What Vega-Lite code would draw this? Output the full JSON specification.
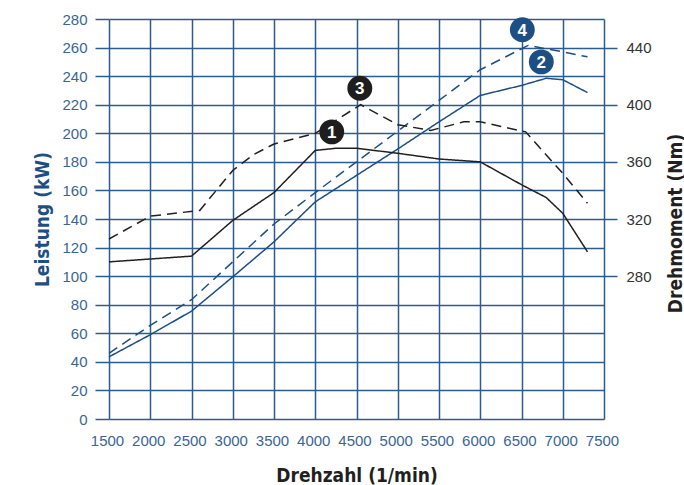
{
  "$schema": "https://vega.github.io/schema/vega-lite/v6.json",
  "width": 495,
  "height": 400,
  "autosize": "none",
  "padding": {"left": 109, "top": 19, "right": 80, "bottom": 66},
  "background": "white",
  "config": {
    "view": {"stroke": null},
    "axis": {
      "labelFont": "Liberation Sans",
      "labelFontSize": 15,
      "titleFont": "DejaVu Sans Condensed, Liberation Sans Narrow, sans-serif",
      "titleFontSize": 19,
      "titleFontWeight": "bold",
      "gridColor": "#2c5b8e",
      "gridWidth": 1.5,
      "gridOpacity": 1,
      "tickColor": "#2c5b8e",
      "tickWidth": 1.5,
      "domain": false,
      "labelOverlap": false,
      "labelFlush": false
    }
  },
  "datasets": {
    "power": [
      {"rpm": 1500, "kw": 43.5, "engine": "A"},
      {"rpm": 2000, "kw": 59, "engine": "A"},
      {"rpm": 2500, "kw": 75.5, "engine": "A"},
      {"rpm": 3000, "kw": 99.5, "engine": "A"},
      {"rpm": 3500, "kw": 124, "engine": "A"},
      {"rpm": 4000, "kw": 152, "engine": "A"},
      {"rpm": 4500, "kw": 170.5, "engine": "A"},
      {"rpm": 5000, "kw": 189, "engine": "A"},
      {"rpm": 5500, "kw": 208, "engine": "A"},
      {"rpm": 6000, "kw": 226.5, "engine": "A"},
      {"rpm": 6500, "kw": 233.5, "engine": "A"},
      {"rpm": 6800, "kw": 238.5, "engine": "A"},
      {"rpm": 7000, "kw": 237.5, "engine": "A"},
      {"rpm": 7300, "kw": 228.5, "engine": "A"},
      {"rpm": 1500, "kw": 46, "engine": "B"},
      {"rpm": 2000, "kw": 65.5, "engine": "B"},
      {"rpm": 2500, "kw": 83.5, "engine": "B"},
      {"rpm": 3000, "kw": 110, "engine": "B"},
      {"rpm": 3500, "kw": 136.5, "engine": "B"},
      {"rpm": 4000, "kw": 158.5, "engine": "B"},
      {"rpm": 4500, "kw": 180, "engine": "B"},
      {"rpm": 5000, "kw": 201.5, "engine": "B"},
      {"rpm": 5500, "kw": 223, "engine": "B"},
      {"rpm": 6000, "kw": 244.5, "engine": "B"},
      {"rpm": 6580, "kw": 261.5, "engine": "B"},
      {"rpm": 7000, "kw": 257, "engine": "B"},
      {"rpm": 7300, "kw": 253.5, "engine": "B"}
    ],
    "torque": [
      {"rpm": 1500, "nm": 290, "engine": "A"},
      {"rpm": 2500, "nm": 294, "engine": "A"},
      {"rpm": 3000, "nm": 319, "engine": "A"},
      {"rpm": 3500, "nm": 338.5, "engine": "A"},
      {"rpm": 4000, "nm": 368, "engine": "A"},
      {"rpm": 4250, "nm": 369.5, "engine": "A"},
      {"rpm": 4500, "nm": 369.5, "engine": "A"},
      {"rpm": 5000, "nm": 366, "engine": "A"},
      {"rpm": 5500, "nm": 362, "engine": "A"},
      {"rpm": 6000, "nm": 360, "engine": "A"},
      {"rpm": 6500, "nm": 344, "engine": "A"},
      {"rpm": 6800, "nm": 335, "engine": "A"},
      {"rpm": 7000, "nm": 324, "engine": "A"},
      {"rpm": 7300, "nm": 297, "engine": "A"},
      {"rpm": 1500, "nm": 306, "engine": "B"},
      {"rpm": 2000, "nm": 322, "engine": "B"},
      {"rpm": 2600, "nm": 326, "engine": "B"},
      {"rpm": 3000, "nm": 354, "engine": "B"},
      {"rpm": 3250, "nm": 365, "engine": "B"},
      {"rpm": 3500, "nm": 372.5, "engine": "B"},
      {"rpm": 4000, "nm": 380, "engine": "B"},
      {"rpm": 4550, "nm": 400, "engine": "B"},
      {"rpm": 5000, "nm": 386, "engine": "B"},
      {"rpm": 5400, "nm": 382, "engine": "B"},
      {"rpm": 5800, "nm": 388, "engine": "B"},
      {"rpm": 6000, "nm": 388, "engine": "B"},
      {"rpm": 6550, "nm": 381, "engine": "B"},
      {"rpm": 6750, "nm": 368, "engine": "B"},
      {"rpm": 7000, "nm": 352, "engine": "B"},
      {"rpm": 7300, "nm": 331, "engine": "B"}
    ],
    "markersKw": [
      {"rpm": 6740, "kw": 250, "label": "2"},
      {"rpm": 6510, "kw": 272.5, "label": "4"}
    ],
    "markersNm": [
      {"rpm": 4200, "nm": 381, "label": "1"},
      {"rpm": 4540, "nm": 411.5, "label": "3"}
    ]
  },
  "encoding": {
    "x": {
      "field": "rpm",
      "type": "quantitative",
      "scale": {"domain": [1500, 7500], "nice": false, "zero": false},
      "axis": {
        "values": [1500, 2000, 2500, 3000, 3500, 4000, 4500, 5000, 5500, 6000, 6500, 7000, 7500],
        "format": "d",
        "ticks": false,
        "grid": true,
        "labelPadding": 14,
        "labelOffset": -2,
        "labelColor": "#3b6593",
        "title": "Drehzahl (1/min)",
        "titleColor": "#231f20",
        "titleX": 247.5,
        "titleY": 62,
        "titleBaseline": "alphabetic"
      }
    }
  },
  "layer": [
    {
      "encoding": {
        "y": {
          "field": "kw",
          "type": "quantitative",
          "scale": {"domain": [0, 280], "nice": false},
          "axis": {
            "orient": "left",
            "values": [0, 20, 40, 60, 80, 100, 120, 140, 160, 180, 200, 220, 240, 260, 280],
            "grid": true,
            "tickSize": 14,
            "labelPadding": 8,
            "labelColor": "#3b6593",
            "title": "Leistung (kW)",
            "titleColor": "#1d4f85",
            "titleAngle": 270,
            "titleAlign": "center",
            "titleBaseline": "alphabetic",
            "titleX": -60.5,
            "titleY": 200
          }
        }
      },
      "layer": [
        {
          "data": {"name": "power"},
          "mark": {"type": "line", "color": "#1d4f85", "strokeWidth": 1.5},
          "encoding": {
            "detail": {"field": "engine", "type": "nominal"},
            "strokeDash": {
              "field": "engine",
              "type": "nominal",
              "scale": {"domain": ["A", "B"], "range": [[1, 0], [10, 6]]},
              "legend": null
            }
          }
        },
        {
          "data": {"name": "markersKw"},
          "mark": {"type": "circle", "size": 620, "color": "#1d4f85", "opacity": 1}
        },
        {
          "data": {"name": "markersKw"},
          "mark": {"type": "text", "color": "white", "font": "Liberation Sans", "fontWeight": "bold", "fontSize": 17, "baseline": "middle", "dy": 1},
          "encoding": {"text": {"field": "label", "type": "nominal"}}
        }
      ]
    },
    {
      "encoding": {
        "y": {
          "field": "nm",
          "type": "quantitative",
          "scale": {"domain": [180, 460], "nice": false, "zero": false},
          "axis": {
            "orient": "right",
            "values": [280, 320, 360, 400, 440],
            "grid": false,
            "tickSize": 13,
            "labelPadding": 9,
            "labelColor": "#333333",
            "title": "Drehmoment (Nm)",
            "titleColor": "#231f20",
            "titleAngle": 270,
            "titleAlign": "center",
            "titleBaseline": "alphabetic",
            "titleX": 77,
            "titleY": 204
          }
        }
      },
      "layer": [
        {
          "data": {"name": "torque"},
          "mark": {"type": "line", "color": "#231f20", "strokeWidth": 1.5},
          "encoding": {
            "detail": {"field": "engine", "type": "nominal"},
            "strokeDash": {
              "field": "engine",
              "type": "nominal",
              "scale": {"domain": ["A", "B"], "range": [[1, 0], [10, 6]]},
              "legend": null
            }
          }
        },
        {
          "data": {"name": "markersNm"},
          "mark": {"type": "circle", "size": 620, "color": "#1e1e1e", "opacity": 1}
        },
        {
          "data": {"name": "markersNm"},
          "mark": {"type": "text", "color": "white", "font": "Liberation Sans", "fontWeight": "bold", "fontSize": 17, "baseline": "middle", "dy": 1},
          "encoding": {"text": {"field": "label", "type": "nominal"}}
        }
      ]
    }
  ],
  "resolve": {"scale": {"y": "independent"}}
}
